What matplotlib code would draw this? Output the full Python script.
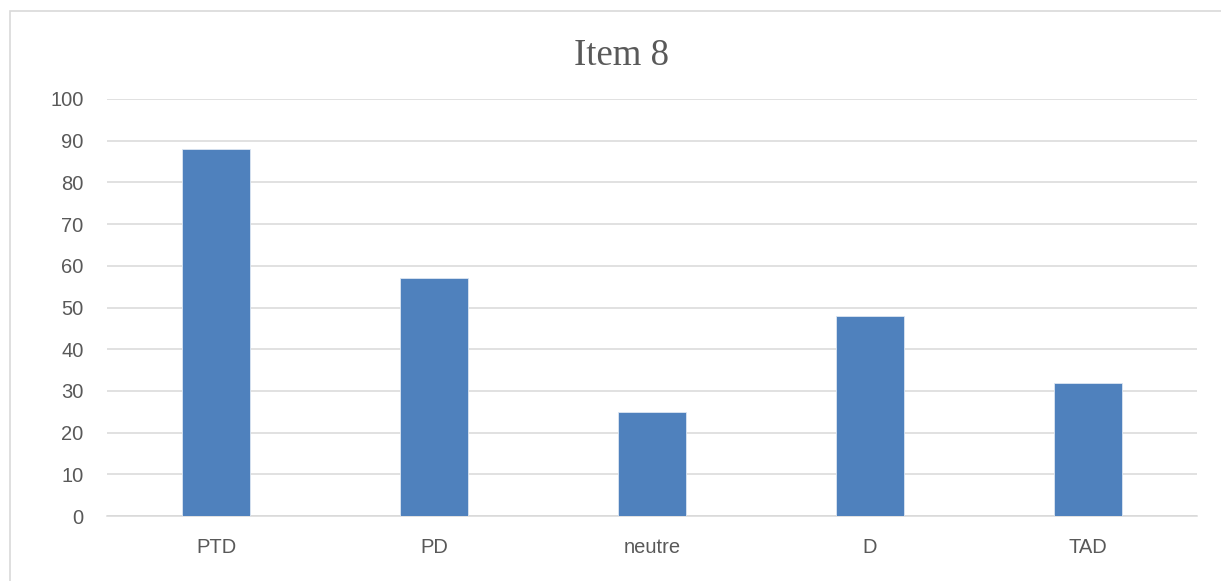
import matplotlib

matplotlib.use("Agg")

import matplotlib.pyplot as plt
from matplotlib.patches import Rectangle

categories = ["PTD", "PD", "neutre", "D", "TAD"]
counts = [88, 57, 25, 48, 32]
y_ticks = list(range(0, 101, 10))

BAR_COLOR = "#4f81bd"
GRID_COLOR = "#d9d9d9"
TEXT_COLOR = "#595959"

fig = plt.figure(figsize=(12.21, 5.81), dpi=100)

# chart frame, clipped on the right and bottom like the exported image
fig.patches.append(Rectangle((10 / 1221, -0.2), 1.5, 1.2 - 11 / 581,
                             transform=fig.transFigure, fill=False,
                             edgecolor=GRID_COLOR, linewidth=1.2))

ax = fig.add_axes([107 / 1221, 1 - 516 / 581, 1090 / 1221, 417 / 581])
x = range(len(categories))
ax.bar(x, counts, width=0.31, color=BAR_COLOR, edgecolor="#dce6f2", linewidth=0.6, zorder=3)

ax.set_xlim(-0.5, len(categories) - 0.5)
ax.set_ylim(0, 100)
ax.set_yticks(y_ticks)
ax.set_xticks(list(x))
ax.set_xticklabels(categories)
ax.yaxis.grid(True, color=GRID_COLOR, linewidth=1.1, zorder=0)
ax.set_axisbelow(True)

for side in ("top", "right", "left"):
    ax.spines[side].set_visible(False)
ax.spines["bottom"].set_color(GRID_COLOR)
ax.spines["bottom"].set_linewidth(1.1)

ax.tick_params(axis="both", length=0, colors=TEXT_COLOR, labelsize=14.5)
ax.tick_params(axis="y", pad=17)
ax.tick_params(axis="x", pad=16)
for label in ax.get_xticklabels() + ax.get_yticklabels():
    label.set_family("Liberation Sans")

fig.text(622 / 1221, 1 - 56 / 581, "Item 8", ha="center", va="center",
         fontsize=26.5, family="Liberation Serif", color=TEXT_COLOR)

fig.savefig("out.png", dpi=100)
